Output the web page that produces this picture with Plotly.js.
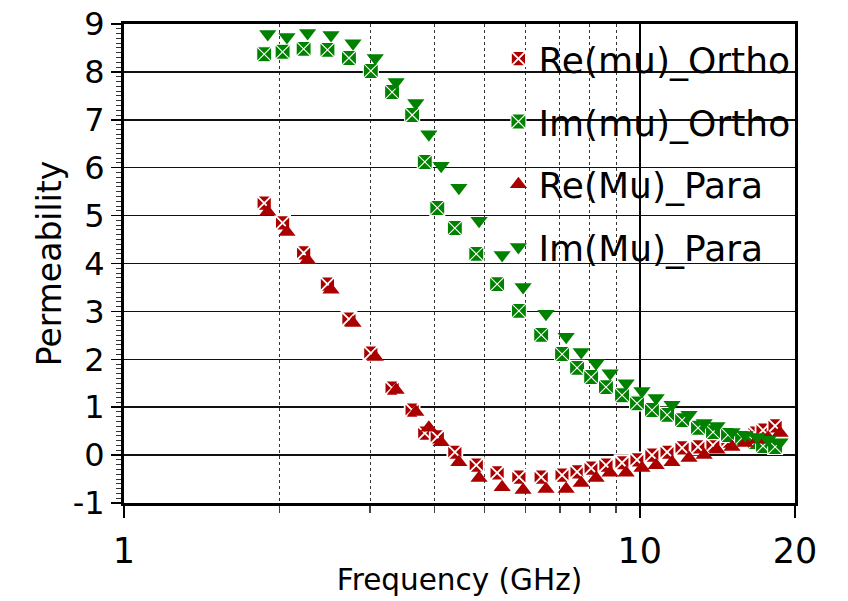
<!DOCTYPE html>
<html>
<head>
<meta charset="utf-8">
<script src="https://cdn.plot.ly/plotly-3.0.1.min.js"></script>
<style>
html,body{margin:0;padding:0;background:#fff;}
#chart{width:848px;height:601px;}
</style>
</head>
<body>
<div id="chart"></div>
<script>
// Frequencies (GHz)
const freqOrtho = [1.87, 2.03, 2.23, 2.48, 2.73, 3.01, 3.31, 3.62, 3.83, 4.05, 4.38, 4.82, 5.29, 5.83, 6.44, 7.07, 7.56, 8.05, 8.60, 9.24, 9.88, 10.56, 11.30, 12.08, 12.97, 13.87, 14.83, 15.79, 16.73, 17.34, 18.30];
const freqPara  = [1.90, 2.07, 2.27, 2.52, 2.78, 3.07, 3.37, 3.68, 3.90, 4.12, 4.46, 4.88, 5.41, 5.94, 6.58, 7.20, 7.70, 8.23, 8.76, 9.41, 10.10, 10.76, 11.55, 12.46, 13.33, 14.12, 15.10, 16.00, 16.89, 17.74, 18.71];

// Permeability values
const reOrtho = [5.26, 4.85, 4.22, 3.57, 2.84, 2.13, 1.40, 0.94, 0.46, 0.38, 0.06, -0.21, -0.37, -0.46, -0.46, -0.42, -0.35, -0.27, -0.21, -0.16, -0.10, 0.00, 0.06, 0.15, 0.17, 0.21, 0.29, 0.36, 0.46, 0.52, 0.61];
const imOrtho = [8.37, 8.42, 8.48, 8.46, 8.29, 8.02, 7.58, 7.10, 6.12, 5.16, 4.74, 4.20, 3.57, 3.01, 2.51, 2.11, 1.82, 1.63, 1.42, 1.25, 1.08, 0.94, 0.84, 0.73, 0.57, 0.48, 0.42, 0.36, 0.27, 0.19, 0.17];
const rePara  = [5.08, 4.66, 4.07, 3.45, 2.76, 2.05, 1.36, 0.90, 0.57, 0.27, -0.15, -0.48, -0.67, -0.73, -0.71, -0.71, -0.58, -0.48, -0.37, -0.37, -0.27, -0.21, -0.15, -0.06, 0.00, 0.11, 0.17, 0.25, 0.32, 0.36, 0.46];
const imPara  = [8.79, 8.73, 8.81, 8.77, 8.60, 8.29, 7.79, 7.35, 6.70, 6.04, 5.58, 4.89, 4.18, 3.51, 2.95, 2.47, 2.15, 1.92, 1.71, 1.50, 1.34, 1.19, 1.05, 0.84, 0.67, 0.61, 0.48, 0.42, 0.38, 0.32, 0.27];

// Labels
const seriesNames = ["Re(mu)_Ortho", "Im(mu)_Ortho", "Re(Mu)_Para", "Im(Mu)_Para"];
const xTickVals = [1, 10, 20];
const xTickText = ["1", "10", "20"];
const xMinorVals = [2, 3, 4, 5, 6, 7, 8, 9];
const yTickVals = [-1, 0, 1, 2, 3, 4, 5, 6, 7, 8, 9];
const yTickText = ["-1", "0", "1", "2", "3", "4", "5", "6", "7", "8", "9"];

const RED = "#ab0000";
const GREEN = "#008200";

const traces = [
  {x: freqOrtho, y: reOrtho, name: seriesNames[0], legendgroup: "a", mode: "markers", type: "scatter",
   marker: {symbol: "square-x", size: 15, color: RED, line: {color: "#ffffff", width: 1.8}}},
  {x: freqOrtho, y: imOrtho, name: seriesNames[1], legendgroup: "b", mode: "markers", type: "scatter",
   marker: {symbol: "square-x", size: 15, color: GREEN, line: {color: "#ffffff", width: 1.1}}},
  {x: freqPara, y: rePara, name: seriesNames[2], legendgroup: "c", mode: "markers", type: "scatter",
   marker: {symbol: "triangle-up", size: 15, color: RED, line: {width: 0}}},
  {x: freqPara, y: imPara, name: seriesNames[3], legendgroup: "d", mode: "markers", type: "scatter",
   marker: {symbol: "triangle-down", size: 15, color: GREEN, line: {width: 0}}}
];

const FONT = "DejaVu Sans, sans-serif";

const layout = {
  width: 848, height: 601,
  margin: {l: 124, r: 53, t: 24, b: 98},
  paper_bgcolor: "#fff", plot_bgcolor: "#fff",
  font: {family: FONT, color: "#000", size: 28},
  showlegend: true,
  legend: {
    x: 0.558, y: 0.99, xanchor: "left", yanchor: "top",
    bgcolor: "rgba(0,0,0,0)", borderwidth: 0,
    font: {family: FONT, size: 36, color: "#000"},
    traceorder: "grouped", tracegroupgap: 13,
    itemsizing: "trace"
  },
  xaxis: {
    type: "log", range: [0, Math.log10(20)],
    tickmode: "array", tickvals: xTickVals, ticktext: xTickText,
    ticks: "outside", ticklen: 12, tickwidth: 1.5, tickcolor: "#000",
    ticklabelstandoff: 3,
    tickfont: {family: FONT, size: 35},
    showgrid: true, gridcolor: "#000", gridwidth: 1.5,
    minor: {tickvals: xMinorVals, ticks: "outside", ticklen: 7, tickcolor: "#444",
            showgrid: true, gridcolor: "#333", griddash: "dot", gridwidth: 1},
    showline: true, linecolor: "#000", linewidth: 3, mirror: true,
    zeroline: false,
    title: {text: "Frequency (GHz)", font: {family: FONT, size: 29.5}, standoff: 0}
  },
  yaxis: {
    range: [-1, 9], tickmode: "array", tickvals: yTickVals, ticktext: yTickText,
    ticks: "outside", ticklen: 10, tickwidth: 1.5, tickcolor: "#000",
    tickfont: {family: FONT, size: 32},
    showgrid: true, gridcolor: "#111", gridwidth: 1.5,
    minor: {dtick: 0.1, ticks: "outside", ticklen: 5, tickcolor: "#333", tickwidth: 1, showgrid: false},
    showline: true, linecolor: "#000", linewidth: 3, mirror: true,
    zeroline: false,
    title: {text: "Permeability", font: {family: FONT, size: 33}, standoff: 2}
  }
};

Plotly.newPlot("chart", traces, layout, {displayModeBar: false, staticPlot: true});
</script>
</body>
</html>
